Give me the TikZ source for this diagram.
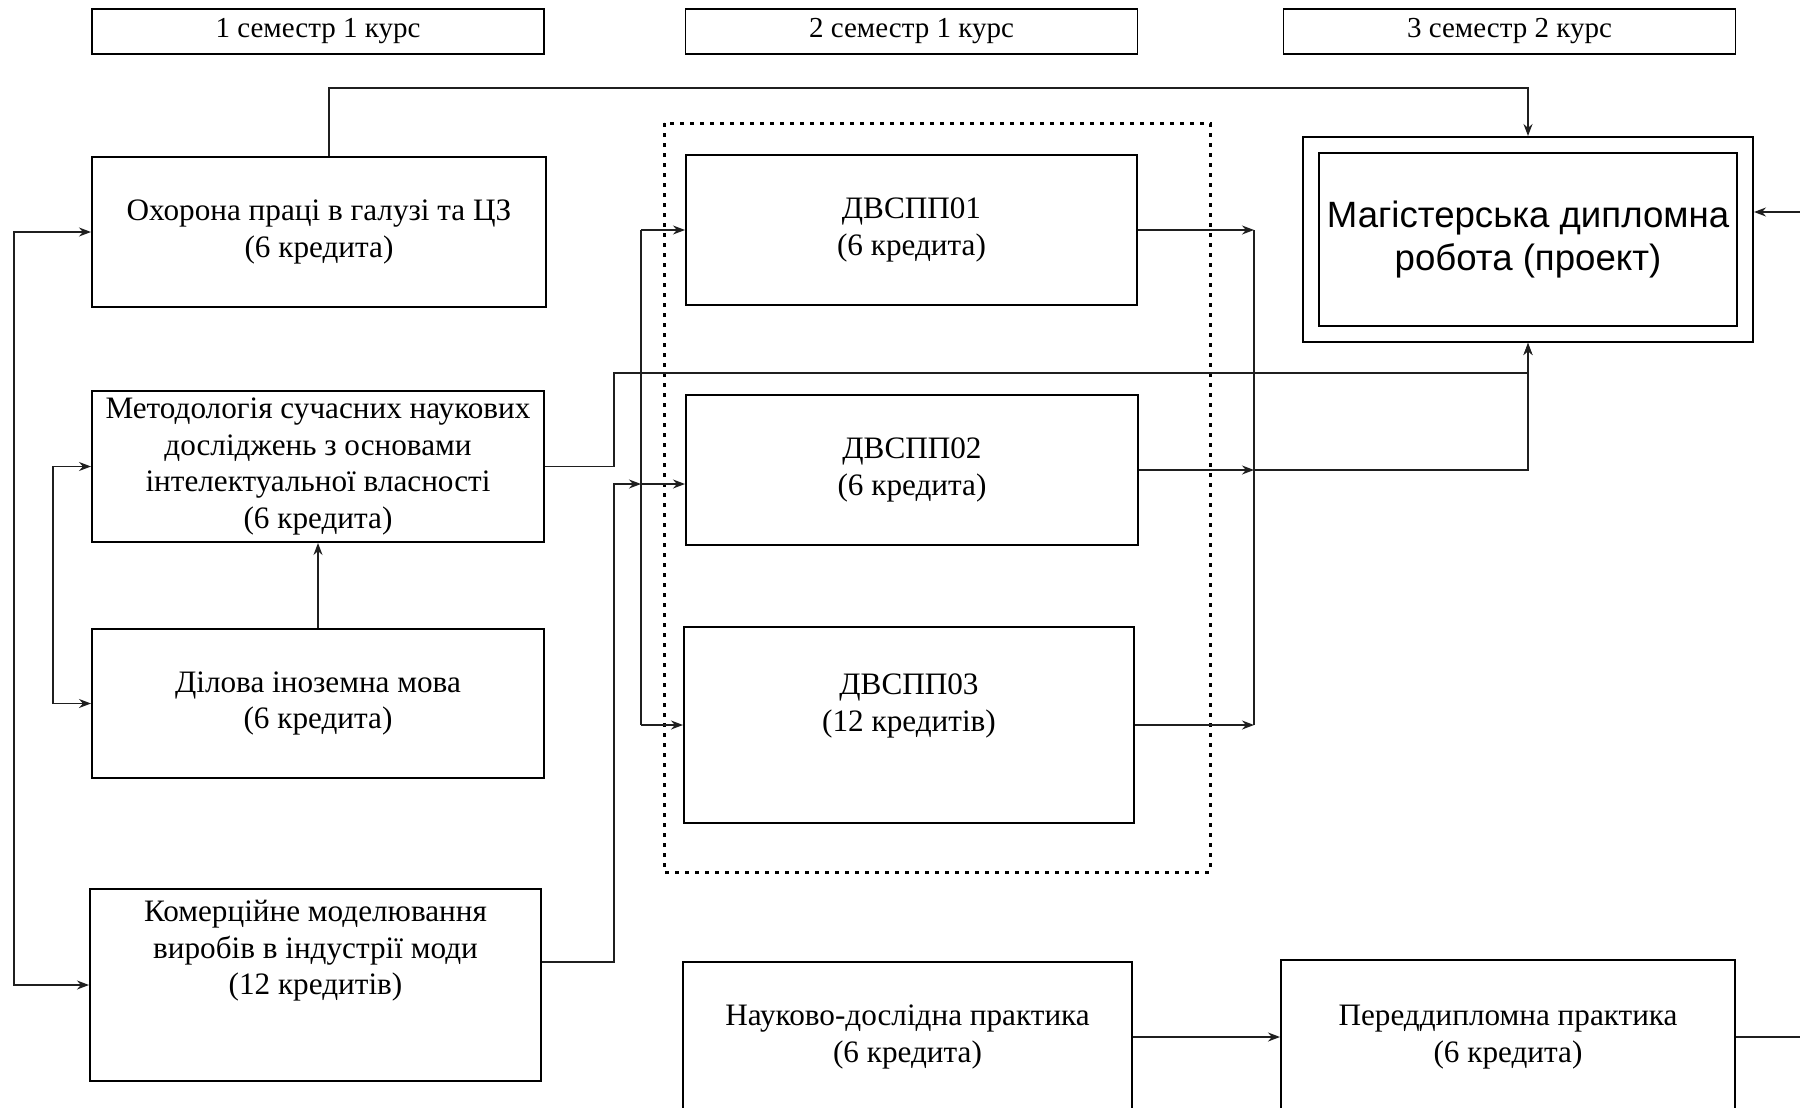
\documentclass[tikz,border=0pt]{standalone}
\usepackage{fontspec}
\setmainfont{Liberation Serif}
\newfontfamily\magfont{Liberation Sans}
\usetikzlibrary{arrows.meta}
\definecolor{LineClr}{rgb}{0.12,0.12,0.12}

\begin{document}
\begin{tikzpicture}[x=0.5pt,y=-0.5pt,
  box/.style={draw,line width=1pt,align=center,inner sep=0pt,font=\fontsize{15.6}{18.3}\selectfont},
  txt/.style={align=center,inner sep=0pt,font=\fontsize{15.6}{18.3}\selectfont},
  hdr/.style={draw,line width=0.7pt,minimum width=226pt,minimum height=22.5pt,inner sep=0pt,font=\fontsize{14.5}{17}\selectfont},
  link/.style={draw=LineClr,line width=0.65pt},
  arr/.style={link,-{Stealth[length=6pt,width=4.5pt]}},
  arrs/.style={link,{Stealth[length=6pt,width=4.5pt]}-{Stealth[length=6pt,width=4.5pt]}}]
\useasboundingbox (0,0) rectangle (1800,1108);

\node[hdr] (sem1) at (318,31.5) {1 семестр 1 курс};
\node[hdr] (sem2) at (911.5,31.5) {2 семестр 1 курс};
\node[hdr] (sem3) at (1509.5,31.5) {3 семестр 2 курс};

\node[box,minimum width=227pt,minimum height=75pt] (ohr) at (319,232) {Охорона праці в галузі та ЦЗ\\(6 кредита)};
\node[box,minimum width=226pt,minimum height=75.5pt] (met) at (318,466.5) {Методологія сучасних наукових\\досліджень з основами\\інтелектуальної власності\\(6 кредита)};
\node[box,minimum width=226pt,minimum height=74.5pt] (dil) at (318,703.5) {Ділова іноземна мова\\(6 кредита)};
\node[box,minimum width=225.5pt,minimum height=96pt,
  label={[txt,yshift=17pt]center:{Комерційне моделювання\\виробів в індустрії моди\\(12 кредитів)}}] (kom) at (315.5,985) {};

\node[box,minimum width=225.5pt,minimum height=75pt] (dv1) at (911.5,230) {ДВСПП01\\(6 кредита)};
\node[box,minimum width=226pt,minimum height=75pt] (dv2) at (912,470) {ДВСПП02\\(6 кредита)};
\node[box,minimum width=225pt,minimum height=98pt,
  label={[txt,yshift=9.5pt]center:{ДВСПП03\\(12 кредитів)}}] (dv3) at (909,725) {};
\node[box,minimum width=224.5pt,minimum height=75pt] (nauk) at (907.5,1037) {Науково-дослідна практика\\(6 кредита)};
\node[box,minimum width=227pt,minimum height=77pt] (pered) at (1508,1037) {Переддипломна практика\\(6 кредита)};

\node[draw,line width=1pt,double,double distance=7pt,outer sep=4.5pt,minimum width=217pt,minimum height=94.5pt,
  align=center,font=\magfont\fontsize{18.3}{21.5}\selectfont] (mag) at (1528,239.5) {Магістерська дипломна\\робота (проект)};

\draw[line width=1.5pt,dash pattern=on 2.2pt off 2.8pt] (664,123) rectangle (1210,872);

\coordinate (busL) at (14,600);
\coordinate (busI) at (53,580);
\coordinate (busM) at (641,484);
\coordinate (kbend) at (614,484);
\coordinate (mbend) at (614,373);
\coordinate (busR) at (1254,470);
\coordinate (topY) at (329,88);
\coordinate (edgeA) at (1800,212);
\coordinate (edgeB) at (1800,1037);

\draw[arr] (ohr.north -| topY) -- (topY) -| (mag.north);
\draw[arrs] (ohr.west) -| (busL) |- (kom.west);
\draw[arrs] (met.west) -| (busI) |- (dil.west);
\draw[arr] (dil.north) -- (met.south);
\draw[arr] (met.east) -| (mbend) -| (mag.south);

\draw[arr] ([yshift=11.5pt]kom.east) -| (kbend) -- (busM);
\draw[link] (dv1.west -| busM) -- (dv3.west -| busM);
\draw[arr] (dv1.west -| busM) -- (dv1.west);
\draw[arr] (busM) -- (busM -| dv2.west);
\draw[arr] (dv3.west -| busM) -- (dv3.west);

\draw[arr] (dv1.east) -- (dv1.east -| busR);
\draw[arr] (dv2.east) -- (dv2.east -| busR);
\draw[arr] (dv3.east) -- (dv3.east -| busR);
\draw[link] (dv1.east -| busR) -- (dv3.east -| busR);
\draw[arr] (dv2.east -| busR) -| (mag.south);

\draw[arr] (nauk) -- (pered);
\draw[link] (pered.east) -- (edgeB);
\draw[arr] (edgeA) -- (edgeA -| mag.east);

\end{tikzpicture}
\end{document}
